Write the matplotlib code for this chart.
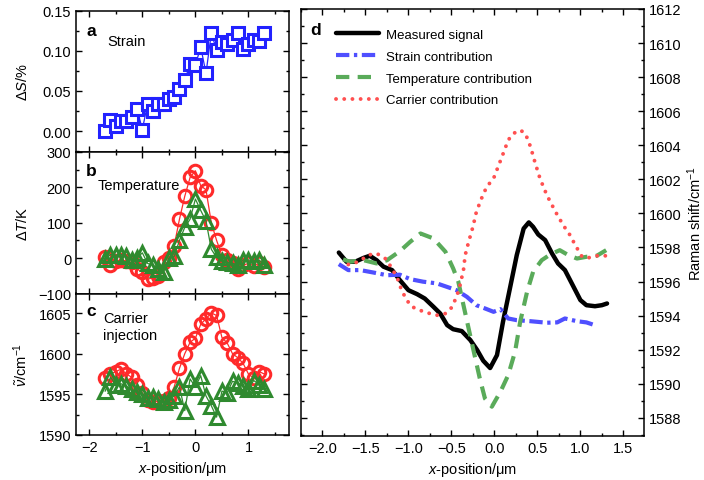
import numpy as np
import matplotlib
matplotlib.use('Agg')
import matplotlib.pyplot as plt
from matplotlib.ticker import MultipleLocator

plt.rcParams['font.family'] = ['Liberation Sans', 'DejaVu Sans']
plt.rcParams['mathtext.fontset'] = 'custom'
plt.rcParams['mathtext.rm'] = 'Liberation Sans'
plt.rcParams['mathtext.it'] = 'Liberation Sans:italic'
plt.rcParams['mathtext.bf'] = 'Liberation Sans:bold'

# --- data -------------------------------------------------------------
x_pts = [-1.7, -1.6, -1.5, -1.4, -1.3, -1.2, -1.1, -1.0, -0.9, -0.8, -0.7,
         -0.6, -0.5, -0.4, -0.3, -0.2, -0.1, 0.0, 0.1, 0.2, 0.3, 0.4, 0.5,
         0.6, 0.7, 0.8, 0.9, 1.0, 1.1, 1.2, 1.3]

strain = [0.000, 0.014, 0.007, 0.012, 0.013, 0.018, 0.028, 0.002, 0.034,
          0.025, 0.034, 0.034, 0.040, 0.043, 0.053, 0.064, 0.083, 0.082,
          0.105, 0.072, 0.122, 0.101, 0.111, 0.109, 0.113, 0.122, 0.102,
          0.109, 0.114, 0.112, 0.122]

temp_red = [3, -20, -8, -5, -8, -12, -30, -40, -60, -55, -50, -10, 0, 35,
            110, 175, 228, 247, 205, 193, 100, 50, 8, -5, -15, -30, -20,
            -15, -22, -15, -25]
temp_green = [-3, 10, 8, 10, 5, -5, 0, 15, -15, -20, -30, -40, 0, 5, 50,
              87, 110, 167, 135, 105, 25, 2, -8, -12, -15, -20, -5, -5, -8,
              -5, -20]

carr_red = [1597.0, 1597.5, 1597.8, 1598.1, 1597.5, 1597.1, 1596.2, 1595.2,
            1594.3, 1594.0, 1594.2, 1594.2, 1594.6, 1595.9, 1598.2, 1600.0,
            1601.4, 1601.9, 1603.6, 1604.3, 1605.0, 1604.7, 1602.0, 1601.3,
            1600.0, 1599.5, 1598.8, 1597.5, 1597.0, 1597.8, 1597.5]
carr_green = [1595.4, 1597.1, 1596.2, 1596.3, 1596.0, 1595.6, 1595.3,
              1595.1, 1594.6, 1594.7, 1594.4, 1594.0, 1594.3, 1594.8,
              1595.9, 1593.0, 1596.9, 1595.9, 1597.3, 1594.8, 1593.6,
              1592.2, 1595.4, 1595.2, 1596.6, 1596.4, 1596.0, 1595.7,
              1596.7, 1596.2, 1595.6]

# panel d curves
meas_x = [-1.81, -1.72, -1.62, -1.52, -1.45, -1.37, -1.29, -1.19, -1.10,
          -1.00, -0.90, -0.81, -0.71, -0.63, -0.55, -0.48, -0.38, -0.28,
          -0.20, -0.13, -0.05, 0.03, 0.10, 0.18, 0.26, 0.34, 0.40, 0.45,
          0.51, 0.59, 0.67, 0.74, 0.82, 0.90, 1.00, 1.07, 1.17, 1.25, 1.31]
meas_y = [1597.7, 1597.16, 1597.16, 1597.39, 1597.51, 1597.25, 1596.87,
          1596.67, 1596.08, 1595.49, 1595.26, 1595.0, 1594.52, 1594.12,
          1593.44, 1593.2, 1593.09, 1592.56, 1591.97, 1591.35, 1590.92,
          1591.68, 1593.64, 1595.59, 1597.55, 1599.11, 1599.47, 1599.21,
          1598.76, 1598.43, 1597.65, 1597.06, 1596.67, 1595.89, 1594.91,
          1594.61, 1594.55, 1594.61, 1594.71]

strain_x = [-1.81, -1.70, -1.56, -1.41, -1.25, -1.10, -0.98, -0.83, -0.67,
            -0.52, -0.44, -0.32, -0.21, -0.10, -0.01, 0.07, 0.16, 0.26,
            0.42, 0.61, 0.73, 0.82, 0.96, 1.07, 1.19]
strain_y = [1597.02, 1596.67, 1596.67, 1596.53, 1596.37, 1596.4, 1596.14,
            1595.99, 1595.89, 1595.63, 1595.49, 1595.1, 1594.61, 1594.4,
            1594.22, 1594.38, 1593.83, 1593.73, 1593.67, 1593.58, 1593.6,
            1593.83, 1593.67, 1593.6, 1593.4]

temp_x = [-1.76, -1.68, -1.52, -1.37, -1.25, -1.10, -0.98, -0.86, -0.71,
          -0.57, -0.48, -0.42, -0.36, -0.30, -0.24, -0.17, -0.11, -0.03,
          0.07, 0.16, 0.24, 0.30, 0.38, 0.45, 0.55, 0.65, 0.76, 0.86, 0.96,
          1.07, 1.19, 1.30]
temp_y = [1597.3, 1597.16, 1597.25, 1597.06, 1597.25, 1597.78, 1598.33,
          1598.82, 1598.53, 1597.75, 1596.77, 1595.99, 1594.61, 1593.24,
          1591.88, 1590.31, 1589.13, 1588.65, 1589.53, 1590.5, 1591.88,
          1593.64, 1595.4, 1596.57, 1597.25, 1597.59, 1597.84, 1597.55,
          1597.35, 1597.45, 1597.51, 1597.84]

carrier_x = [-1.70, -1.58, -1.47, -1.37, -1.27, -1.19, -1.12, -1.08, -1.02,
             -0.96, -0.84, -0.75, -0.67, -0.57, -0.50, -0.44, -0.40, -0.36,
             -0.34, -0.30, -0.25, -0.21, -0.15, -0.09, -0.01, 0.05, 0.11,
             0.16, 0.22, 0.30, 0.36, 0.42, 0.47, 0.53, 0.61, 0.71, 0.80,
             0.88, 0.94, 1.02, 1.09, 1.19, 1.29]
carrier_y = [1597.0, 1597.16, 1597.55, 1597.65, 1597.35, 1596.77, 1596.08,
             1595.49, 1594.91, 1594.52, 1594.26, 1594.12, 1594.02, 1594.12,
             1594.46, 1595.1, 1595.79, 1596.67, 1597.55, 1598.33, 1599.21,
             1600.09, 1600.88, 1601.56, 1602.05, 1602.83, 1603.62, 1604.3,
             1604.69, 1604.89, 1604.69, 1603.91, 1603.03, 1602.05, 1601.07,
             1600.1, 1599.31, 1598.72, 1598.14, 1597.45, 1597.39, 1597.51,
             1597.51]

# --- figure -----------------------------------------------------------
W, H = 704, 481
fig = plt.figure(figsize=(W / 100, H / 100), dpi=100)

def frac(x0, y0, x1, y1):
    return [x0 / W, 1 - y1 / H, (x1 - x0) / W, (y1 - y0) / H]

ax_a = fig.add_axes(frac(76, 11.7, 289.3, 153))
ax_b = fig.add_axes(frac(76, 153, 289.3, 294.5))
ax_c = fig.add_axes(frac(76, 294.5, 289.3, 436))
ax_d = fig.add_axes(frac(301, 10, 644, 437))

TICK_FS = 10.5

def style(ax):
    for s in ax.spines.values():
        s.set_linewidth(1.1)
    ax.tick_params(which='both', direction='in', top=True, right=True,
                   labelsize=TICK_FS, width=1.0)
    ax.tick_params(which='major', length=4)
    ax.tick_params(which='minor', length=2.5)

blue = '#2222ff'
red = '#ff2a2a'
green = '#2f8a2f'

# panel a
ax_a.plot(x_pts, strain, '-', color=blue, lw=0.9, marker='s', ms=9,
          mfc='white', mec=blue, mew=2.2)
ax_a.set_ylim(-0.026, 0.15)
ax_a.yaxis.set_major_locator(MultipleLocator(0.05))
ax_a.yaxis.set_minor_locator(MultipleLocator(0.025))
ax_a.set_ylabel(r'$\Delta\mathit{S}$/%', fontsize=10.5)
ax_a.text(0.047, 0.828, 'a', transform=ax_a.transAxes, fontsize=12.5,
          fontweight='bold', va='baseline')
ax_a.text(0.146, 0.759, 'Strain', transform=ax_a.transAxes, fontsize=10.5,
          va='baseline')

# panel b
ax_b.plot(x_pts, temp_red, '-', color=red, lw=0.9, marker='o', ms=9,
          mfc='none', mec=red, mew=2.2)
ax_b.plot(x_pts, temp_green, '-', color=green, lw=0.9, marker='^', ms=10,
          mfc='none', mec=green, mew=2.2)
ax_b.set_ylim(-100, 300)
ax_b.yaxis.set_major_locator(MultipleLocator(100))
ax_b.yaxis.set_minor_locator(MultipleLocator(50))
ax_b.set_ylabel(r'$\Delta\mathit{T}$/K', fontsize=10.5)
ax_b.text(0.047, 0.837, 'b', transform=ax_b.transAxes, fontsize=12.5,
          fontweight='bold', va='baseline')
ax_b.text(0.103, 0.739, 'Temperature', transform=ax_b.transAxes,
          fontsize=10.5, va='baseline')

# panel c
ax_c.plot(x_pts, carr_red, '-', color=red, lw=0.9, marker='o', ms=9,
          mfc='none', mec=red, mew=2.2)
ax_c.plot(x_pts, carr_green, '-', color=green, lw=0.9, marker='^', ms=10,
          mfc='none', mec=green, mew=2.2)
ax_c.set_ylim(1590, 1607.4)
ax_c.yaxis.set_major_locator(MultipleLocator(5))
ax_c.yaxis.set_minor_locator(MultipleLocator(2.5))
ax_c.set_ylabel(r'$\tilde{\nu}$/cm$^{-1}$', fontsize=10.5)
ax_c.set_xlabel(r'$\mathit{x}$-position/μm', fontsize=10.5)
ax_c.text(0.047, 0.848, 'c', transform=ax_c.transAxes, fontsize=12.5,
          fontweight='bold', va='baseline')
ax_c.text(0.127, 0.796, 'Carrier', transform=ax_c.transAxes, fontsize=10.5,
          va='baseline')
ax_c.text(0.127, 0.678, 'injection', transform=ax_c.transAxes,
          fontsize=10.5, va='baseline')

for ax in (ax_a, ax_b, ax_c):
    ax.set_xlim(-2.25, 1.77)
    ax.xaxis.set_major_locator(MultipleLocator(1))
    ax.xaxis.set_minor_locator(MultipleLocator(0.5))
    style(ax)
    ax.yaxis.set_label_coords(-0.215, 0.5)
for ax in (ax_a, ax_b):
    ax.tick_params(labelbottom=False)

# panel d
ax_d.plot(meas_x, meas_y, color='black', lw=3.2, solid_capstyle='round',
          solid_joinstyle='round', label='Measured signal')
ax_d.plot(strain_x, strain_y, color='#4f4fff', lw=3.0,
          ls=(0, (3.2, 1.1, 0.8, 1.1)), label='Strain contribution')
ax_d.plot(temp_x, temp_y, color='#5aab5a', lw=3.0, ls=(0, (3.2, 2.0)),
          label='Temperature contribution')
ax_d.plot(carrier_x, carrier_y, color='#ff5050', lw=2.8,
          ls=(0, (0.01, 2.1)), dash_capstyle='round',
          label='Carrier contribution')
ax_d.set_xlim(-2.25, 1.74)
ax_d.set_ylim(1586.93, 1612)
ax_d.xaxis.set_major_locator(MultipleLocator(0.5))
ax_d.xaxis.set_minor_locator(MultipleLocator(0.25))
ax_d.yaxis.set_major_locator(MultipleLocator(2))
ax_d.yaxis.set_minor_locator(MultipleLocator(1))
style(ax_d)
ax_d.tick_params(labelleft=False, labelright=True)
ax_d.yaxis.set_label_position('right')
ax_d.set_ylabel('Raman shift/cm$^{-1}$', fontsize=10.5)
ax_d.yaxis.set_label_coords(1.122, 0.5)
ax_d.set_xlabel(r'$\mathit{x}$-position/μm', fontsize=10.5)
ax_d.xaxis.set_major_formatter(plt.FuncFormatter(
    lambda v, p: f'{v:.1f}'.replace('-', '\u2212')))
ax_d.text(0.026, 0.941, 'd', transform=ax_d.transAxes, fontsize=12.5,
          fontweight='bold', va='baseline')
ax_d.legend(loc='upper left', bbox_to_anchor=(0.08, 0.972), frameon=False,
            fontsize=9.5, handlelength=3.2, handletextpad=0.6,
            labelspacing=0.72, borderaxespad=0.2)

fig.savefig('out.png', dpi=100)
